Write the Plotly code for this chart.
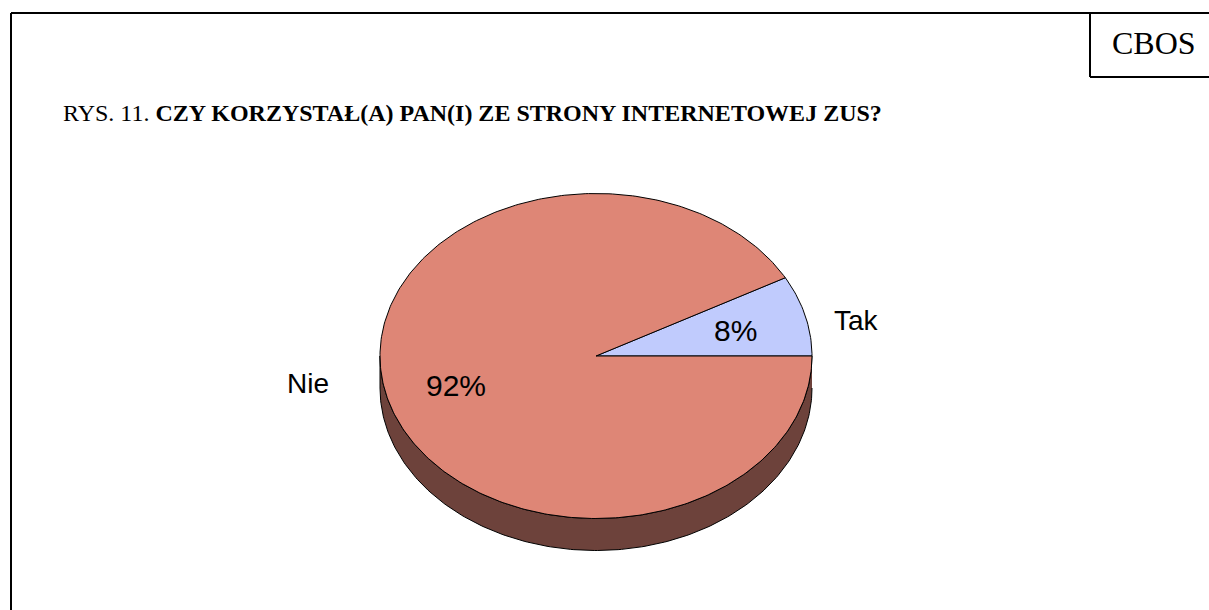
import numpy as np
import plotly.graph_objects as go

# ---- data ----
categories = ["Tak", "Nie"]
values = [8, 92]
pct_labels = ["8%", "92%"]
colors_top = ["#C0CBFD", "#DE8676"]
color_side = "#6D423B"

W, H = 1209, 610
# pie geometry (pixel units)
cx, cy, rx, ry, depth = 596, 356, 216, 162.5, 32

fig = go.Figure()

total = sum(values)
fracs = [v / total for v in values]

# side (visible lower half, from angle 0 through bottom to pi)
t = np.linspace(0, -np.pi, 200)
sx = np.concatenate([cx + rx * np.cos(t), (cx + rx * np.cos(t))[::-1]])
sy = np.concatenate([cy - ry * np.sin(t), (cy - ry * np.sin(t) + depth)[::-1]])
fig.add_trace(go.Scatter(x=sx, y=sy, mode="lines", fill="toself",
                         fillcolor=color_side, line=dict(color="black", width=1),
                         hoverinfo="skip", showlegend=False))

# top slices (start at angle 0, counter-clockwise)
start = 0.0
for cat, f, col in zip(categories, fracs, colors_top):
    a0, a1 = start, start + 2 * np.pi * f
    tt = np.linspace(a0, a1, max(int(400 * f), 20))
    px = np.concatenate([[cx], cx + rx * np.cos(tt), [cx]])
    py = np.concatenate([[cy], cy - ry * np.sin(tt), [cy]])
    fig.add_trace(go.Scatter(x=px, y=py, mode="lines", fill="toself",
                             fillcolor=col, line=dict(color="black", width=1),
                             name=cat, hoverinfo="name", showlegend=False))
    start = a1

# labels
pct_pos = [(735, 330), (456, 385)]
cat_pos = [(856, 320), (308, 383)]
for (x, y), txt in zip(pct_pos, pct_labels):
    fig.add_annotation(x=x, y=y, text=txt, showarrow=False,
                       font=dict(family="Liberation Sans, Arial", size=30, color="black"))
for (x, y), txt in zip(cat_pos, categories):
    fig.add_annotation(x=x, y=y, text=txt, showarrow=False,
                       font=dict(family="Liberation Sans, Arial", size=28, color="black"))

# title
fig.add_annotation(x=61, y=113, xanchor="left", yanchor="middle", showarrow=False,
                   text="RYS. 11. <b>CZY KORZYSTAŁ(A) PAN(I) ZE STRONY INTERNETOWEJ ZUS?</b>",
                   font=dict(family="Liberation Serif, Times New Roman", size=24, color="black"))
fig.add_annotation(x=1154, y=43, xanchor="center", yanchor="middle", showarrow=False,
                   text="CBOS",
                   font=dict(family="Liberation Serif, Times New Roman", size=32, color="black"))

# frame
fig.add_shape(type="line", x0=11, y0=13, x1=W + 5, y1=13, line=dict(color="black", width=2))
fig.add_shape(type="line", x0=11, y0=13, x1=11, y1=H + 5, line=dict(color="black", width=2))
fig.add_shape(type="line", x0=1090, y0=13, x1=1090, y1=77, line=dict(color="black", width=2))
fig.add_shape(type="line", x0=1090, y0=77, x1=W + 5, y1=77, line=dict(color="black", width=2))

fig.update_xaxes(range=[0, W], visible=False, fixedrange=True)
fig.update_yaxes(range=[H, 0], visible=False, fixedrange=True)
fig.update_layout(width=W, height=H, margin=dict(l=0, r=0, t=0, b=0),
                  paper_bgcolor="white", plot_bgcolor="white")

fig.write_html("out.html", config={"displayModeBar": False},
               post_script="document.body.style.margin='0';document.body.style.overflow='hidden';")
